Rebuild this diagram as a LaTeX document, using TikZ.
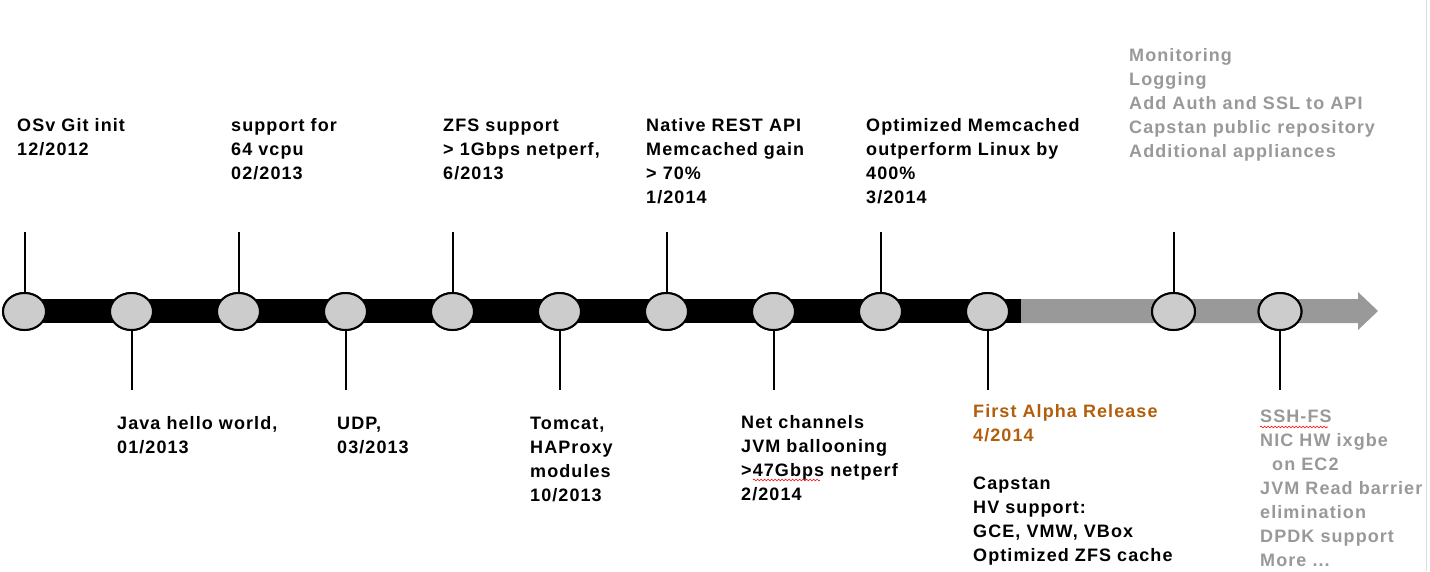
\documentclass[tikz,border=0pt]{standalone}
\usepackage{fontspec}
\setmainfont{Liberation Sans}[LetterSpace=6]
\usetikzlibrary{shapes.geometric,decorations.pathmorphing}
\definecolor{dot}{HTML}{CCCCCC}
\definecolor{future}{HTML}{999999}
\definecolor{release}{HTML}{B35E0B}
\definecolor{edge}{HTML}{DDDDDD}
\newcommand\tl[1]{\begin{tabular}[t]{@{}l@{}}#1\end{tabular}}
\begin{document}
\begin{tikzpicture}[x=1pt,y=-1pt,
  dotnode/.style={ellipse, draw=black, line width=2pt, fill=dot, minimum width=43pt, minimum height=37pt, inner sep=0pt},
  tick/.style={line width=2pt, draw=black},
  lbl/.style={anchor=base west, inner sep=0pt, font=\fontsize{18}{24}\selectfont\bfseries},
  spell/.style={draw=red, line width=0.6pt, decorate, decoration={snake, amplitude=0.9pt, segment length=3.5pt}}]
\useasboundingbox (0,0) rectangle (1430,571);
\fill[white] (0,0) rectangle (1430,571);
\draw[edge, line width=1.5pt] (1426.5,0) -- (1426.5,571);
% bars
\fill[black] (20,299) rectangle (1021,323);
\fill[future] (1021,299) -- (1358,299) -- (1358,292) -- (1378,311) -- (1358,330) -- (1358,323) -- (1021,323) -- cycle;
% ellipses
\foreach \i/\x in {1/24.5,2/131.5,3/238.5,4/345.5,5/452.5,6/559.5,7/666.5,8/773.5,9/880.5,10/987.5,11/1173.5,12/1280}
  \node[dotnode] (e\i) at (\x,311.5) {};
% tick ends
\foreach \i in {1,3,5,7,9,11} \coordinate (t\i) at (e\i.north |- 0,232);
\foreach \i in {2,4,6,8,10,12} \coordinate (t\i) at (e\i.south |- 0,390);
\foreach \i in {1,...,12} \draw[tick] (e\i) -- (t\i);
\foreach \i in {1,...,12} \node[dotnode] at (e\i) {};
% top labels
\node[lbl] (l1) at (17,131) {\tl{OSv Git init\\ 12/2012}};
\node[lbl] (l3) at (231,131) {\tl{support for\\ 64 vcpu\\ 02/2013}};
\node[lbl] (l5) at (443,131) {\tl{ZFS support\\ > 1Gbps netperf,\\ 6/2013}};
\node[lbl] (l7) at (646,131) {\tl{Native REST API\\ Memcached gain\\ > 70\%\\ 1/2014}};
\node[lbl] (l9) at (866,131) {\tl{Optimized Memcached\\ outperform Linux by\\ 400\%\\ 3/2014}};
\node[lbl, text=future] (l11) at (1129,61) {\tl{Monitoring\\ Logging\\ Add Auth and SSL to API\\ Capstan public repository\\ Additional appliances}};
% bottom labels
\node[lbl] (l2) at (117,429) {\tl{Java hello world,\\ 01/2013}};
\node[lbl] (l4) at (337,429) {\tl{UDP,\\ 03/2013}};
\node[lbl] (l6) at (530,429) {\tl{Tomcat,\\ HAProxy\\ modules\\ 10/2013}};
\node[lbl] (l8) at (741,428) {\tl{Net channels\\ JVM ballooning\\ >47Gbps netperf\\ 2/2014}};
\node[lbl] (l10) at (973,417) {\tl{\textcolor{release}{First Alpha Release}\\ \textcolor{release}{4/2014}\\ \\ Capstan\\ HV support:\\ GCE, VMW, VBox\\ Optimized ZFS cache}};
\node[lbl, text=future] (l12) at (1260,422) {\tl{SSH-FS\\ NIC HW ixgbe\\ \hspace{12pt}on EC2\\ JVM Read barrier\\ elimination\\ DPDK support\\ More ...}};
% spell-check marks
\draw[spell] (753,480) -- (820,480);
\draw[spell] (1260,427) -- (1328,427);
\end{tikzpicture}
\end{document}
